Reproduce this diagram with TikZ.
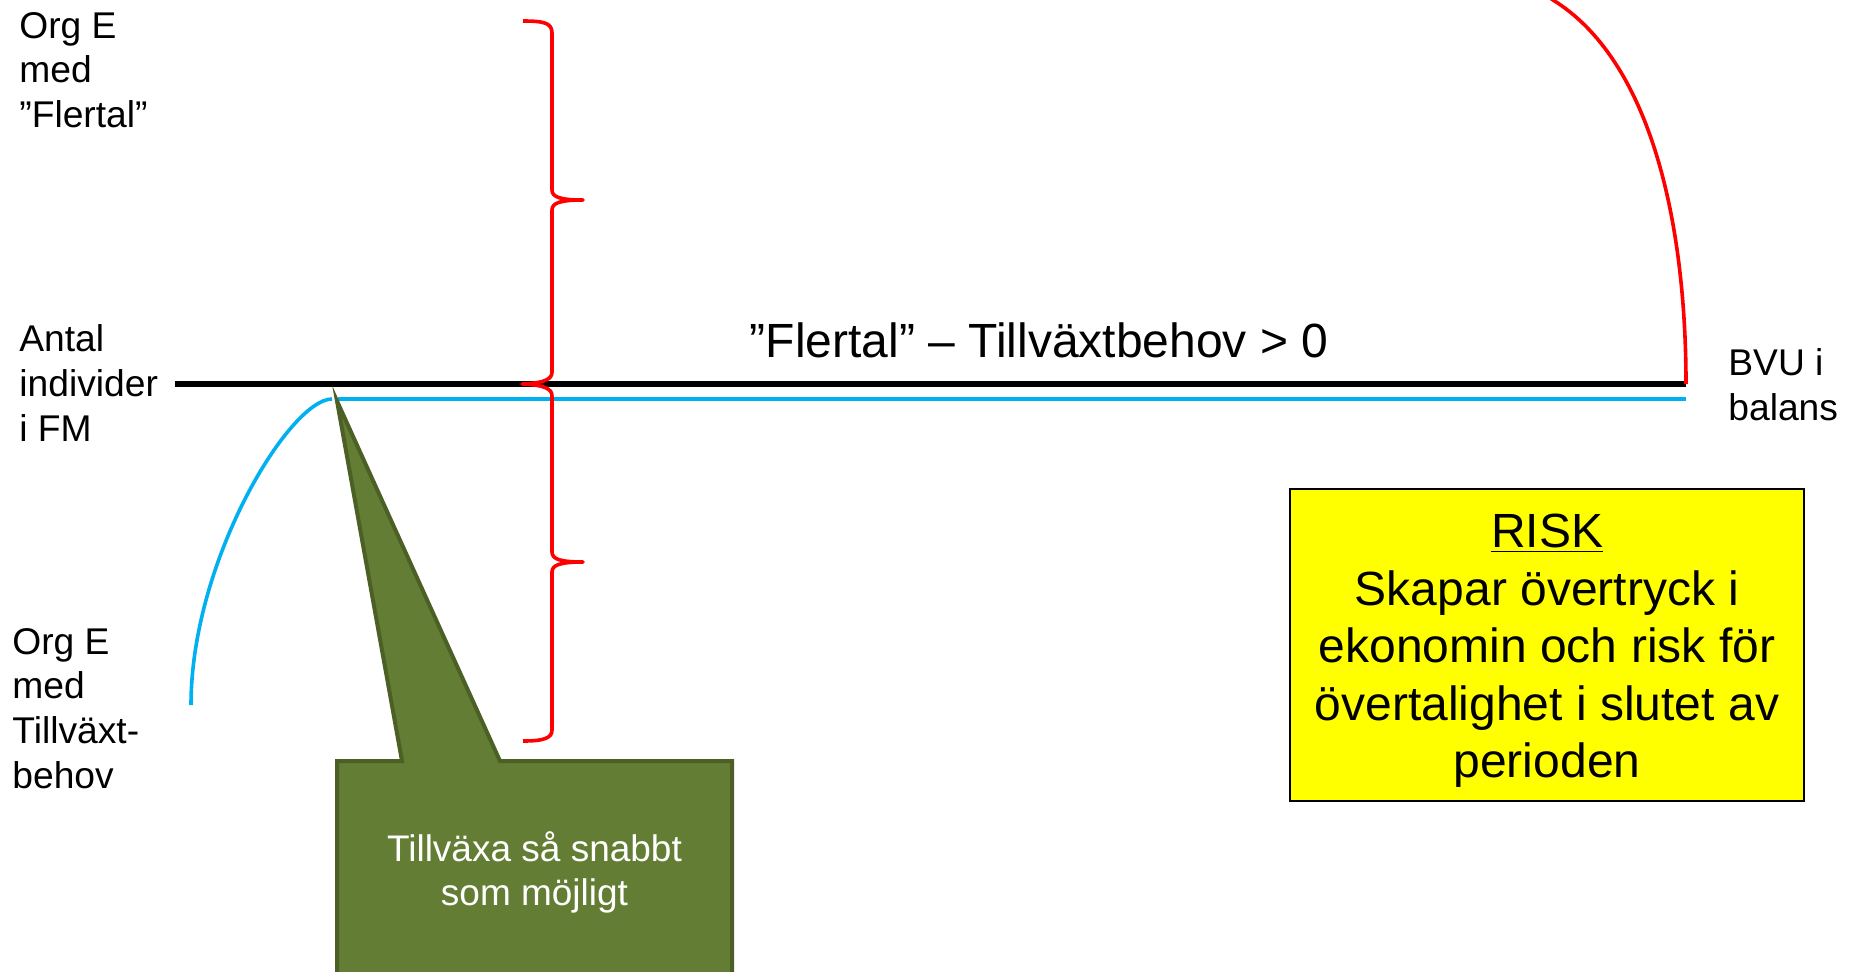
\documentclass[tikz,border=0pt]{standalone}
\usepackage{fontspec}
\setmainfont{Liberation Sans}
\definecolor{sky}{RGB}{0,176,240}
\definecolor{olive}{RGB}{99,125,52}
\definecolor{olivedark}{RGB}{76,96,38}
\definecolor{riskyellow}{RGB}{255,255,0}
\begin{document}
\begin{tikzpicture}[x=0.5pt,y=-0.5pt,
  lbl/.style={inner sep=0pt, align=left, anchor=west,
    font=\fontsize{18.6pt}{22.4pt}\selectfont},
  bigtext/.style={inner sep=0pt, align=center,
    font=\fontsize{24pt}{28.7pt}\selectfont},
  redline/.style={draw=red, line width=1.8pt},
  blueline/.style={draw=sky, line width=1.8pt},
  axisline/.style={draw=black, line width=2.6pt},
  callout/.style={fill=olive, draw=olivedark, line width=2pt},
  riskbox/.style={draw=black, line width=1.2pt, fill=riskyellow, inner sep=0pt,
    minimum width=257pt, minimum height=156pt},
]
\useasboundingbox (0,0) rectangle (1857,971);
\clip (0,0) rectangle (1857,971);

% named points of the two levels
\coordinate (axisL) at (175,384);
\coordinate (axisR) at (1686,384);
\coordinate (growL) at (338,399);
\coordinate (growR) at (1686,399);

% level lines
\draw[axisline] (axisL) -- (axisR);
\draw[blueline] (growL) -- (growR);

% rising growth curve on the left
\coordinate (growStart) at (191,705);
\coordinate (growTop) at (332,399);
\draw[blueline] (growStart) .. controls (191,560) and (290,399) .. (growTop);

% falling curve on the right
\coordinate (redTop) at (1500,-40);
\draw[redline] (axisR) .. controls (1686,220) and (1650,60) .. (1553,0)
  .. controls (1535,-12) and (1518,-22) .. (redTop);

% double curly brace
\draw[redline, line join=round]
  (523,21) .. controls (544,21) and (552,23) .. (552,33)
  -- (552,190) .. controls (552,197) and (560,200) .. (583,200)
  .. controls (560,200) and (552,203) .. (552,210)
  -- (552,372) .. controls (552,379) and (545,383) .. (522,384)
  .. controls (545,385) and (552,389) .. (552,396)
  -- (552,552) .. controls (552,559) and (560,562) .. (583,562)
  .. controls (560,562) and (552,565) .. (552,572)
  -- (552,730) .. controls (552,738) and (544,741) .. (523,741);

% speech callout
\draw[callout] (337,401) -- (402,761) -- (337,761) -- (337,990)
  -- (732,990) -- (732,761) -- (500,761) -- cycle;
\node[inner sep=0pt, align=center, text=white,
  font=\fontsize{18.5pt}{22.2pt}\selectfont] (tip) at (534.5,872.5)
  {Tillväxa så snabbt\\som möjligt};

% labels
\node[lbl] (flertal) at (19,70) {Org E\\med\\”Flertal”};
\node[lbl] (antal) at (19,383) {Antal\\individer\\i FM};
\node[lbl] (tillv) at (12,708.5) {Org E\\med\\Tillväxt-\\behov};
\node[lbl] (bvu) at (1728,384.5) {BVU i\\balans};
\node[bigtext] (diff) at (1039,340) {”Flertal” – Tillväxtbehov > 0};

% risk box
\node[riskbox] (risk) at (1547,645) {};
\node[bigtext] (risktext) at (1547,651)
  {\underline{RISK}\\Skapar övertryck i\\ekonomin och risk för\\övertalighet i slutet av\\perioden};
\end{tikzpicture}
\end{document}
